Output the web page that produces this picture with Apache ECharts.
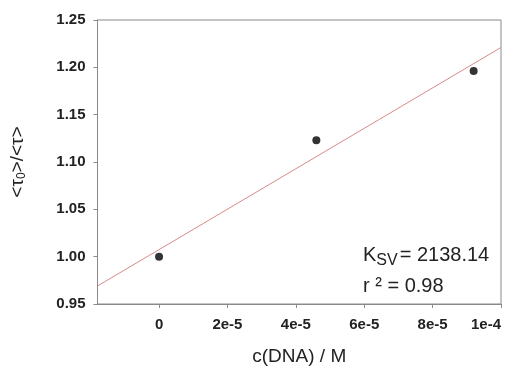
<!DOCTYPE html>
<html><head><meta charset="utf-8">
<script src="https://cdn.jsdelivr.net/npm/echarts@6/dist/echarts.min.js"></script>
<style>html,body{margin:0;padding:0;background:#fff}#c{width:519px;height:374px}</style>
</head><body><div id="c"></div>
<script>
const pointX = [0, 4.6e-5, 9.2e-5];
const pointY = [1.000, 1.123, 1.196];
const fitX = [-1.8e-5, 1.0e-4];
const fitY = [0.969, 1.221];
const xTickValues = [0, 2e-5, 4e-5, 6e-5, 8e-5, 1e-4];
const xTickLabels = ['0', '2e-5', '4e-5', '6e-5', '8e-5', '1e-4'];
const ksvLabel = ['K', 'SV', '= 2138.14'];
const r2Label = 'r ² = 0.98';

const chart = echarts.init(document.getElementById('c'));
const font = 'Liberation Sans, Arial, sans-serif';
const axisCol = '#8a8a8a';
function xLabel(v){
  for (let i = 0; i < xTickValues.length; i++) if (Math.abs(v - xTickValues[i]) < 1e-9) return xTickLabels[i];
  return '';
}
chart.setOption({
  animation:false,
  grid:{left:96,right:18,top:20,bottom:70,show:true,borderColor:axisCol,borderWidth:1},
  xAxis:{type:'value',min:-1.8e-5,max:1e-4,
    axisLine:{show:true,onZero:false,lineStyle:{color:axisCol}},
    axisTick:{show:true,length:4,lineStyle:{color:axisCol},customValues:xTickValues},
    axisLabel:{customValues:xTickValues,formatter:xLabel,color:'#222',fontFamily:font,fontWeight:'bold',fontSize:15,margin:13,alignMaxLabel:'right'},
    splitLine:{show:false},
    name:'c(DNA) / M',nameLocation:'middle',nameGap:43,
    nameTextStyle:{color:'#222',fontFamily:font,fontSize:19}},
  yAxis:{type:'value',min:0.95,max:1.25,interval:0.05,
    axisLine:{show:true,onZero:false,lineStyle:{color:axisCol}},
    axisTick:{show:true,length:4,lineStyle:{color:axisCol}},
    axisLabel:{formatter:v=>v.toFixed(2),color:'#222',fontFamily:font,fontWeight:'bold',fontSize:15,margin:12},
    splitLine:{show:false},
    name:'{a|<τ}{s|0}{a|>/<τ>}',nameLocation:'middle',nameGap:70,
    nameTextStyle:{rich:{a:{color:'#222',fontFamily:font,fontSize:19},s:{color:'#222',fontFamily:font,fontSize:12,padding:[8,0,0,0]}}}},
  series:[
    {type:'line',data:fitX.map((x,i)=>[x,fitY[i]]),symbol:'none',lineStyle:{color:'#d88a8a',width:1},z:2},
    {type:'scatter',data:pointX.map((x,i)=>[x,pointY[i]]),symbolSize:8,itemStyle:{color:'#000'},z:3}
  ],
  graphic:[
    {type:'text',left:363,top:245,style:{
      text:'{a|'+ksvLabel[0]+'}{s|'+ksvLabel[1]+'}{a|'+ksvLabel[2]+'}',
      rich:{a:{fontFamily:font,fontSize:20,fill:'#222'},s:{fontFamily:font,fontSize:16,fill:'#222',padding:[12,2,0,0]}}}},
    {type:'text',left:363,top:276,style:{text:r2Label,fontFamily:font,fontSize:20,fill:'#222'}}
  ]
});
</script></body></html>
